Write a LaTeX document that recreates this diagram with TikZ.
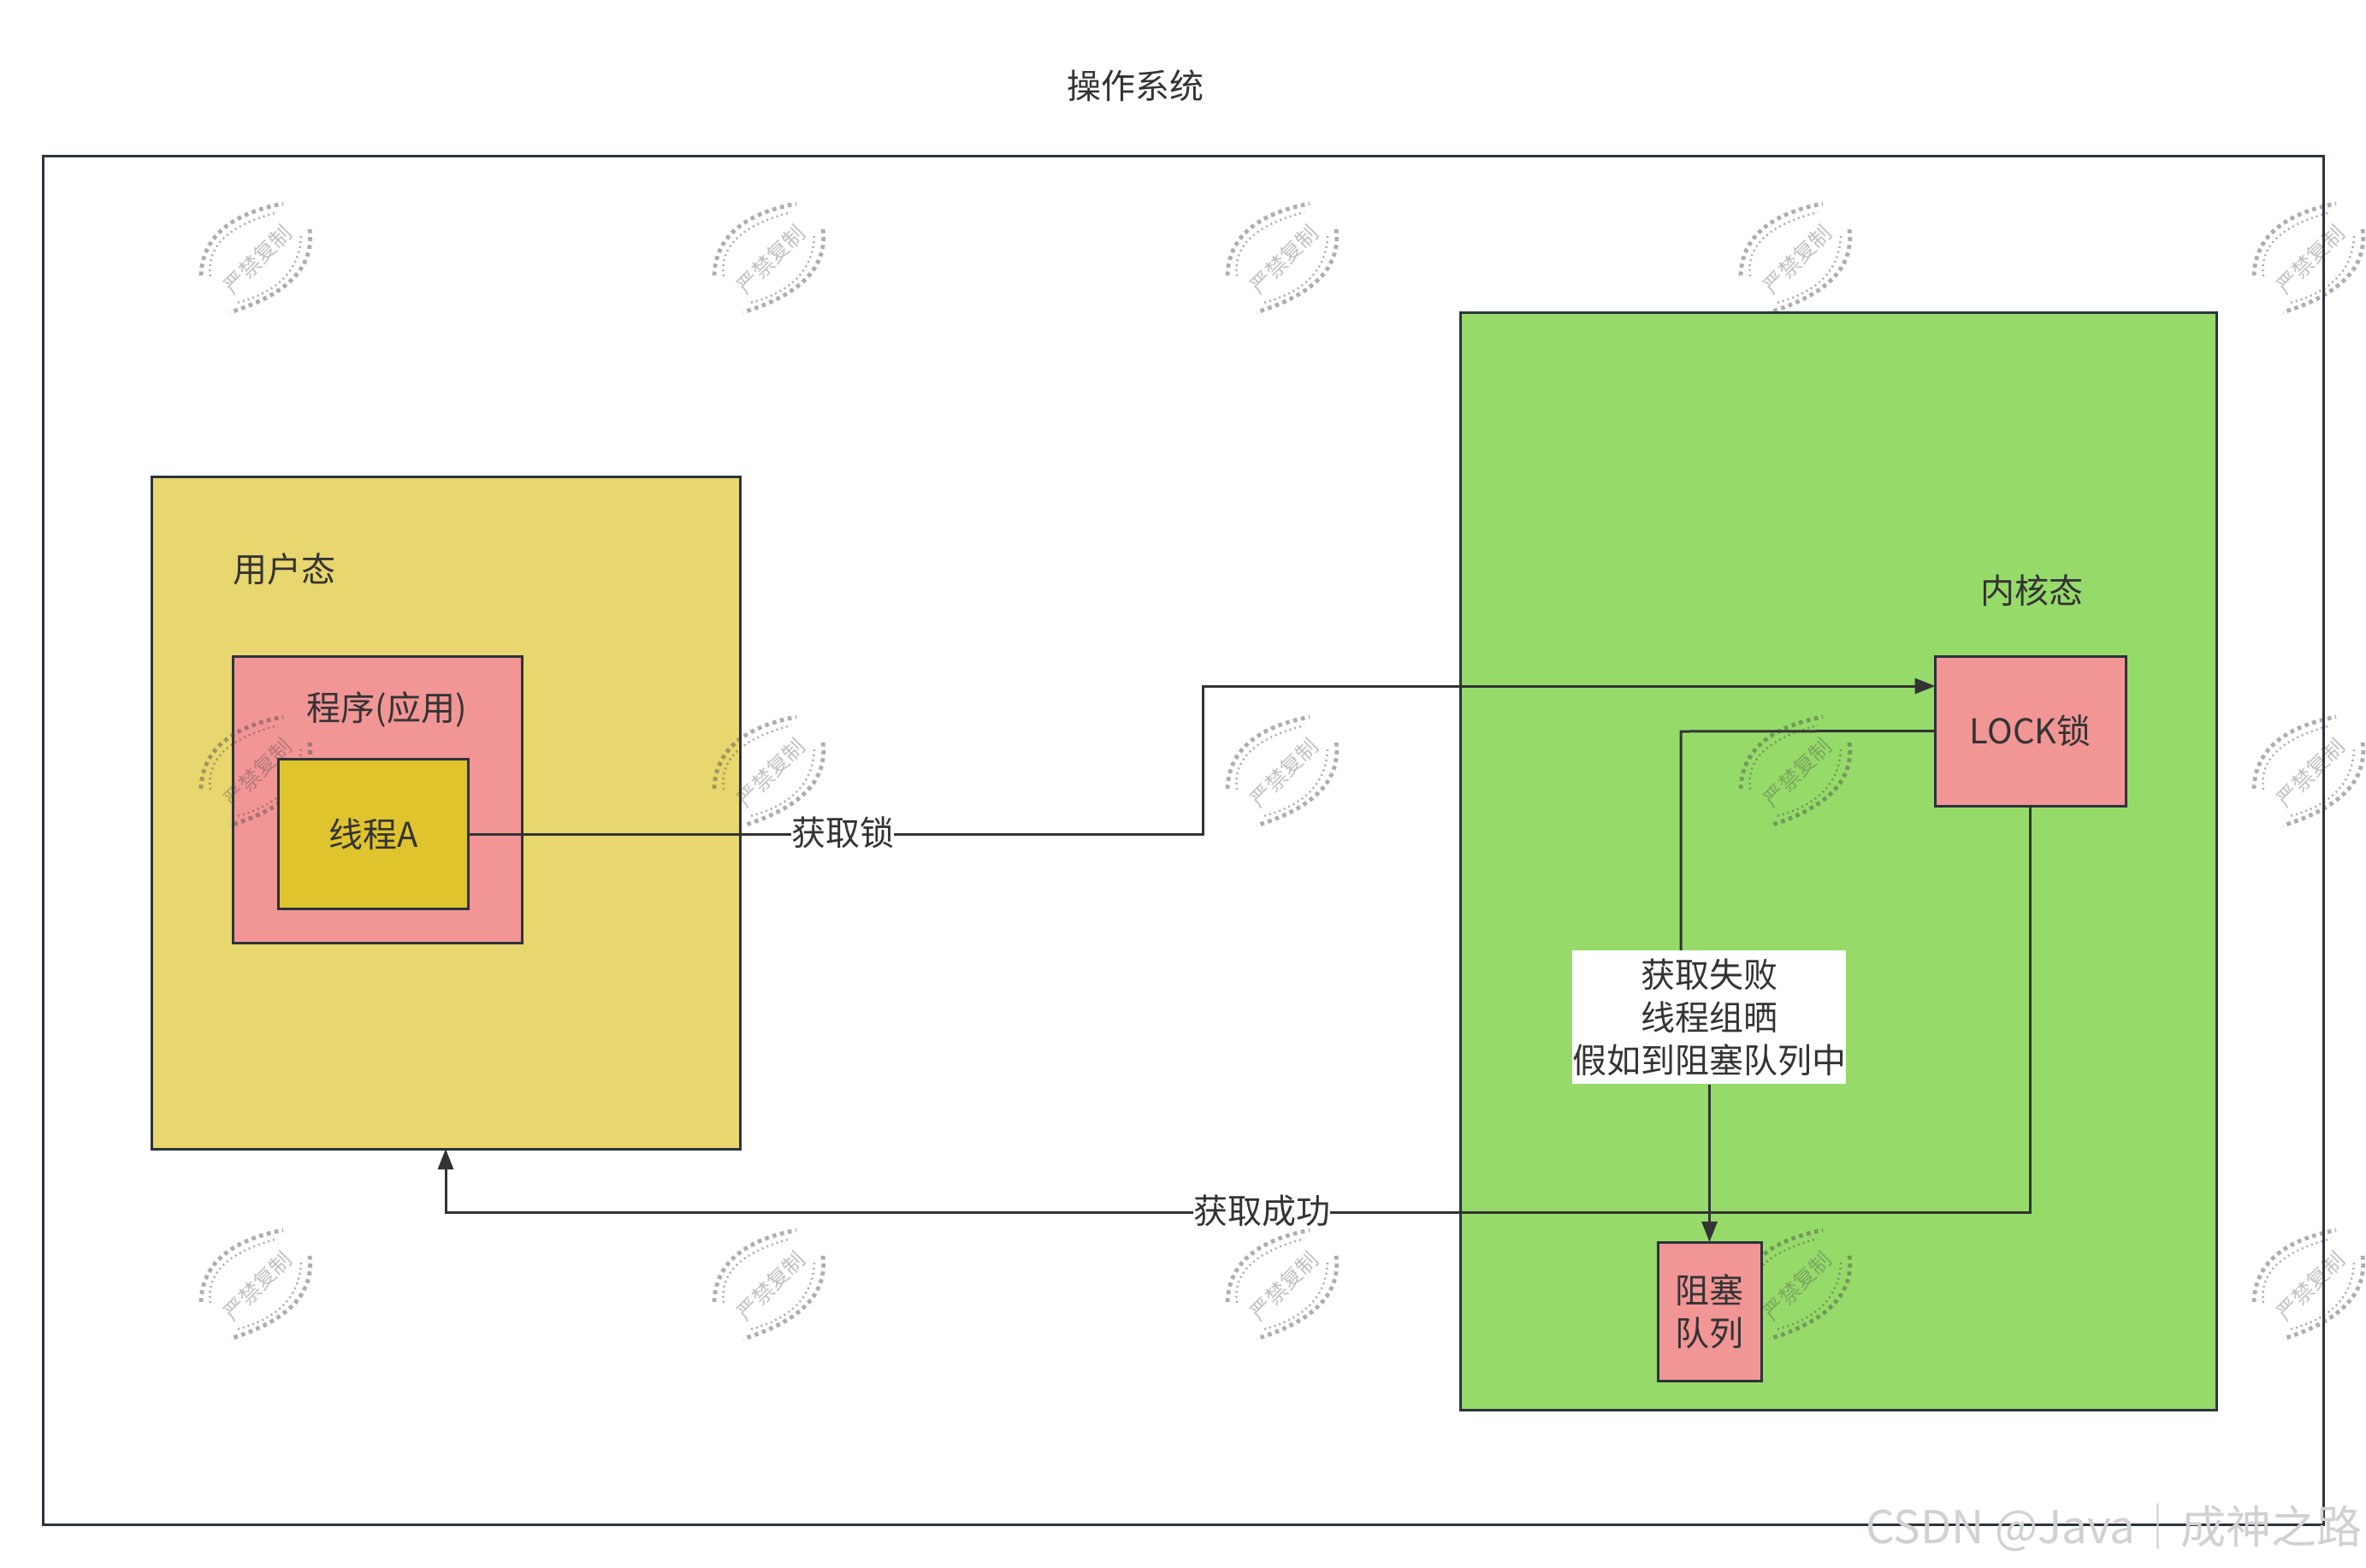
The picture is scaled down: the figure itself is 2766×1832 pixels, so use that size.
\documentclass[tikz,border=0pt]{standalone}
\usepackage{fontspec}
\setmainfont{Noto Sans CJK SC}
\usetikzlibrary{arrows.meta}
\definecolor{ink}{HTML}{333333}
\definecolor{edgec}{HTML}{2B333B}
\definecolor{yel}{HTML}{E8D66E}
\definecolor{pnk}{HTML}{F19595}
\definecolor{thr}{HTML}{DFC42E}
\definecolor{grn}{HTML}{96DA6A}
\definecolor{wmc}{HTML}{444444}
\tikzset{
  x=0.5pt,y=-0.5pt,
  box/.style={draw=edgec,line width=1.5pt,rectangle,inner sep=0pt,outer sep=0pt,text=ink,font=\fontsize{20}{25}\selectfont,align=center},
  txt/.style={text=ink,inner sep=0pt,outer sep=0pt,font=\fontsize{20}{25}\selectfont,align=center},
  lab/.style={txt,fill=white},
  conn/.style={draw=ink,line width=1.5pt},
  arr/.style={conn,-{Triangle[length=12pt,width=9pt]}},
  wmout/.style={draw=wmc,opacity=.43,line width=2.4pt,dash pattern=on 2.3pt off 2.3pt},
  wmin/.style={draw=wmc,opacity=.43,line width=1.2pt,dash pattern=on 1pt off 2pt},
  wmtxt/.style={text=wmc,opacity=.33,inner sep=0pt,outer sep=0pt,font=\fontsize{12.5}{14}\selectfont,rotate=45},
}
\begin{document}
\begin{tikzpicture}
\useasboundingbox (0,0) rectangle (2766,1832);
\fill[white] (0,0) rectangle (2766,1832);
\node[box,minimum width=1333pt,minimum height=800pt] (os) at (1383,982) {};
\node[txt] (ostitle) at (1327,100) {操作系统};
\node[box,fill=yel,minimum width=344pt,minimum height=393pt] (user) at (521,950) {};
\node[box,fill=pnk,minimum width=169pt,minimum height=167.5pt] (prog) at (441,934.5) {};
\node[box,fill=grn,minimum width=441.75pt,minimum height=641.5pt] (kern) at (2149.25,1006.5) {};
\foreach \wx in {298,898,1498,2098,2698}{
  \foreach \wy in {302,902,1502}{
    \begin{scope}[shift={(\wx,\wy)}]
      \draw[wmout] (-63,20) .. controls (-61.7,-24) and (-29,-52) .. (33,-64);
      \draw[wmin] (-52,21) .. controls (-57,-14) and (-30.7,-39) .. (27,-54);
      \draw[wmout] (64,-34) .. controls (69.7,9.7) and (38.7,42) .. (-29,63);
      \draw[wmin] (54,-26) .. controls (52.3,13.3) and (27.3,39.3) .. (-21,52);
      \node[wmtxt] (wm\wx\wy) at (3,1) {严禁复制};
    \end{scope}
  }
}
\node[box,fill=thr,minimum width=111pt,minimum height=87.75pt] (thread) at (436.5,975) {线程A};
\node[box,fill=pnk,minimum width=111.25pt,minimum height=87.5pt] (lock) at (2373.75,854.5) {LOCK锁};
\node[box,fill=pnk,minimum width=60.5pt,minimum height=81pt] (queue) at (1998.5,1533) {阻塞\\队列};
\node[txt] (usertxt) at (332,665) {用户态};
\node[txt] (kerntxt) at (2375,690) {内核态};
\node[txt] (progtxt) at (452,829) {程序(应用)};
\coordinate (c1) at (1406,975);
\coordinate (c2) at (1406,802);
\coordinate (lockin) at (lock.west |- c2);
\coordinate (f1) at (1965,855);
\coordinate (f2) at (1965,1112);
\coordinate (f3) at (1998.5,1268);
\coordinate (s1) at (2373.75,1417);
\coordinate (s2) at (521,1417);
\coordinate (f4) at (queue.north);
\draw[arr] (thread.east) -- (c1) -- (c2) -- (lockin);
\draw[conn] (lock.west) -- (f1) -- (f2);
\draw[arr] (lock.south -| s1) -- (s1) -- (s2) -- (user.south);
\draw[arr] (f3) -- (f4);
\node[lab,minimum width=60pt] (l1) at (985,973) {获取锁};
\node[lab,minimum width=80pt] (l2) at (1475,1415) {获取成功};
\node[lab,minimum width=160pt,minimum height=78pt] (l3) at (1998,1189) {获取失败\\线程组晒\\假如到阻塞队列中};
\node[inner sep=0pt,text=black!18,font=\fontsize{26.5}{30}\selectfont,anchor=east] (csdn) at (2762,1786) {CSDN @Java｜成神之路};
\end{tikzpicture}
\end{document}
